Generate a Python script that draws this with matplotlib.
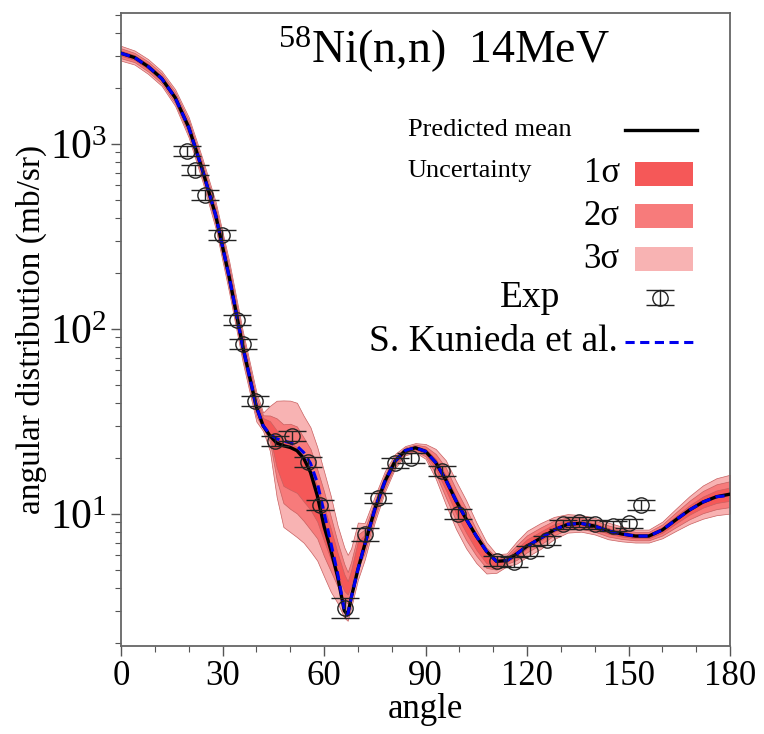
import numpy as np
import matplotlib
matplotlib.use('Agg')
import matplotlib.pyplot as plt
from matplotlib.patches import Rectangle
from matplotlib.ticker import MultipleLocator

plt.rcParams['font.family'] = ['Liberation Serif', 'DejaVu Serif']
plt.rcParams['mathtext.fontset'] = 'custom'
plt.rcParams['mathtext.rm'] = 'Liberation Serif'
plt.rcParams['mathtext.it'] = 'Liberation Serif:italic'

# angle grid of the curves (deg)
angle = [0, 4, 8, 12, 16, 20, 24, 28, 32, 36, 40, 42, 44, 46, 48, 50, 52, 54, 56, 58,
         60, 62, 64, 66, 67, 68, 70, 72, 75, 78, 81, 84, 87, 90, 93, 96, 99, 102, 105,
         108, 111, 114, 117, 120, 124, 128, 132, 136, 140, 144, 148, 152, 156, 160,
         164, 168, 172, 176, 180]
# predicted mean (mb/sr)
pred_mean = [3090, 2930, 2620, 2260, 1780, 1230, 730, 410, 190, 80, 38, 30, 26.5, 24.2,
             23.4, 22.9, 22.0, 20.0, 16.8, 12.6, 8.6, 6.4, 4.6, 3.0, 2.85, 3.5, 5.0, 6.8,
             10.6, 15.0, 19.3, 22.0, 22.8, 21.8, 19.0, 15.3, 11.8, 9.4, 7.6, 6.3, 5.55,
             5.6, 6.1, 6.7, 7.4, 8.2, 8.8, 8.9, 8.6, 8.1, 7.8, 7.6, 7.6, 8.2, 9.3, 10.5,
             11.6, 12.4, 12.8]
# S. Kunieda et al.
kunieda = [3090, 2930, 2620, 2260, 1780, 1230, 730, 410, 190, 80, 38, 30, 27.0, 25.5,
           24.8, 24.3, 23.3, 21.5, 18.8, 14.8, 10.2, 7.0, 4.8, 3.05, 2.85, 3.5, 5.0, 6.8,
           10.6, 15.0, 19.3, 22.0, 22.8, 21.8, 19.0, 15.3, 11.8, 9.4, 7.6, 6.3, 5.55,
           5.6, 6.1, 6.7, 7.4, 8.2, 8.8, 8.9, 8.6, 8.1, 7.8, 7.6, 7.6, 8.2, 9.3, 10.5,
           11.6, 12.4, 12.6]
# uncertainty band centre (mb/sr) and half widths (dex) for 1, 2, 3 sigma
band_mid = [3090, 2930, 2620, 2260, 1780, 1230, 730, 410, 190, 80, 38, 31.5, 29, 22.5,
            18.7, 18.1, 17.3, 15.4, 13.6, 11.35, 8.85, 6.9, 5.36, 4.26, 3.99, 4.49, 6.29,
            7.1, 10.6, 15.0, 19.3, 22.0, 22.8, 21.8, 18.7, 14.8, 11.2, 8.8, 7.0, 5.8, 5.4,
            5.65, 6.2, 6.9, 7.6, 8.4, 8.9, 8.9, 8.6, 8.1, 7.8, 7.6, 7.6, 8.2, 9.3, 10.5,
            11.6, 12.4, 12.8]
w3 = [0.040, 0.038, 0.040, 0.040, 0.045, 0.055, 0.062, 0.072, 0.085, 0.085, 0.08, 0.05,
      0.122, 0.26, 0.342, 0.355, 0.363, 0.343, 0.335, 0.307, 0.284, 0.259, 0.21, 0.19,
      0.178, 0.161, 0.155, 0.1, 0.07, 0.056, 0.039, 0.025, 0.025, 0.04, 0.08, 0.12, 0.13,
      0.13, 0.11, 0.085, 0.05, 0.035, 0.06, 0.07, 0.07, 0.06, 0.05, 0.045, 0.045, 0.045,
      0.04, 0.035, 0.035, 0.045, 0.06, 0.075, 0.09, 0.1, 0.105]
w2 = [0.027, 0.025, 0.027, 0.027, 0.030, 0.037, 0.041, 0.048, 0.057, 0.057, 0.053, 0.035,
      0.07, 0.165, 0.213, 0.23, 0.235, 0.225, 0.218, 0.187, 0.175, 0.148, 0.12, 0.10,
      0.085, 0.088, 0.09, 0.065, 0.045, 0.037, 0.026, 0.017, 0.017, 0.027, 0.053, 0.08,
      0.085, 0.085, 0.07, 0.055, 0.033, 0.023, 0.04, 0.046, 0.046, 0.04, 0.033, 0.03,
      0.03, 0.03, 0.027, 0.023, 0.023, 0.03, 0.04, 0.05, 0.06, 0.067, 0.07]
w1 = [0.014, 0.013, 0.014, 0.014, 0.015, 0.019, 0.021, 0.024, 0.029, 0.029, 0.027, 0.02,
      0.04, 0.10, 0.12, 0.126, 0.124, 0.12, 0.111, 0.096, 0.092, 0.083, 0.062, 0.045,
      0.036, 0.042, 0.053, 0.035, 0.025, 0.02, 0.014, 0.009, 0.009, 0.014, 0.027, 0.04,
      0.045, 0.045, 0.038, 0.03, 0.017, 0.012, 0.02, 0.024, 0.024, 0.021, 0.017, 0.015,
      0.015, 0.015, 0.014, 0.012, 0.012, 0.015, 0.02, 0.025, 0.03, 0.034, 0.036]

# experimental data
exp_angle = [19.5, 21.9, 24.8, 29.9, 34.3, 36.1, 39.6, 45.5, 50.5, 55.2, 58.8, 66.3,
             72.1, 76.0, 81.0, 85.7, 94.9, 99.6, 111.1, 116.2, 120.9, 125.8, 130.7,
             135.5, 140.1, 145.5, 150.2, 153.7]
exp_val = [917, 724, 530, 322, 112, 83, 40.8, 24.8, 26.4, 19.2, 11.2, 3.12, 7.8, 12.2,
           18.9, 20.1, 17.1, 10.0, 5.57, 5.5, 6.3, 7.2, 8.8, 9.1, 8.8, 8.6, 8.9, 11.2]
exp_rel_err = [0.06, 0.06, 0.06, 0.06, 0.06, 0.06, 0.06, 0.06, 0.06, 0.06, 0.06, 0.12,
               0.08, 0.06, 0.06, 0.06, 0.06, 0.06, 0.06, 0.06, 0.06, 0.06, 0.06, 0.06,
               0.06, 0.06, 0.06, 0.06]

angle = np.array(angle)
band_mid = np.array(band_mid)
exp_val = np.array(exp_val)
exp_err = exp_val * np.array(exp_rel_err)

band_colors = {3: '#f8b3b3', 2: '#f77b7b', 1: '#f55858'}

fig = plt.figure(figsize=(7.64, 7.34), dpi=100)
ax = fig.add_axes([0.1584, 0.1199, 0.7971, 0.8624])

for k, w in [(3, w3), (2, w2), (1, w1)]:
    f = 10 ** np.array(w)
    ax.fill_between(angle, band_mid / f, band_mid * f, facecolor=band_colors[k],
                    edgecolor='#c86060', linewidth=0.5, zorder=1)

ax.plot(angle, pred_mean, color='black', lw=2.4, zorder=3)
ax.plot(angle, kunieda, color='#0000ee', lw=2.2, ls=(0, (3, 1.8)), zorder=4)
ax.errorbar(exp_angle, exp_val, yerr=exp_err, fmt='o', mfc='none', mec='#222222',
            ecolor='#222222', ms=11, mew=1.0, capsize=10, elinewidth=1.0,
            capthick=1.0, zorder=5)

ax.set_yscale('log')
ax.set_xlim(0, 180)
ax.set_ylim(1.935, 5100)
ax.xaxis.set_major_locator(MultipleLocator(30))
ax.xaxis.set_minor_locator(MultipleLocator(10))
ax.tick_params(which='both', direction='out', top=False, right=False, colors='#555555',
               labelcolor='black')
ax.tick_params(which='major', length=7, width=1.0)
ax.tick_params(which='minor', length=4, width=0.8)
ax.tick_params(axis='x', labelsize=25, pad=3)
ax.tick_params(axis='y', labelsize=30, pad=3)
for s in ax.spines.values():
    s.set_color('#666666')
    s.set_linewidth(1.3)

ax.set_xlabel('angle', fontsize=25, labelpad=0)
ax.set_ylabel('angular distribution (mb/sr)', fontsize=24, labelpad=2)

ax.text(0.258, 0.942, r'$\mathregular{^{58}}$Ni(n,n)  14MeV', transform=ax.transAxes,
        fontsize=33, ha='left', va='center')

# legend drawn by hand
tr = ax.transAxes
ax.text(0.471, 0.815, 'Predicted mean', transform=tr, fontsize=19, ha='left', va='center')
ax.plot([0.828, 0.946], [0.815, 0.815], transform=tr, color='black', lw=2.4)
ax.text(0.470, 0.751, 'Uncertainty', transform=tr, fontsize=19, ha='left', va='center')
for k, ya in [(1, 0.746), (2, 0.679), (3, 0.611)]:
    ax.text(0.819, ya, f'{k}σ', transform=tr, fontsize=25, ha='right', va='center')
    ax.add_patch(Rectangle((0.844, ya - 0.019), 0.095, 0.038, transform=tr,
                           facecolor=band_colors[k], edgecolor='none'))
ax.text(0.721, 0.550, 'Exp', transform=tr, fontsize=27, ha='right', va='center')
ax.plot([0.885], [0.550], 'o', transform=tr, mfc='none', mec='#222222', ms=11, mew=1.0)
ax.plot([0.885, 0.885], [0.538, 0.562], transform=tr, color='#222222', lw=1.0)
ax.plot([0.885, 0.885], [0.538, 0.562], '_', transform=tr, color='#222222', ms=20, mew=1.0)
ax.text(0.816, 0.480, 'S. Kunieda et al.', transform=tr, fontsize=27, ha='right',
        va='center')
ax.plot([0.828, 0.946], [0.480, 0.480], transform=tr, color='#0000ee', lw=2.2,
        ls=(0, (3, 1.8)))

fig.savefig('out.png', dpi=100)
